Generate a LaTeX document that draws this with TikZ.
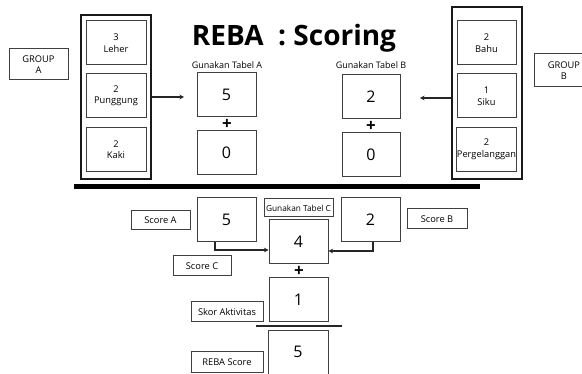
\documentclass[tikz,border=0pt]{standalone}
\usepackage{fontspec}
\setmainfont{Open Sans}
\usetikzlibrary{arrows.meta}
\tikzset{
  box/.style={draw=black!75, line width=1pt, rectangle, inner sep=0pt, align=center, font=\fontsize{9.3}{11.5}\selectfont},
  cont/.style={draw=black!90, line width=1.6pt, rectangle, inner sep=0pt},
  numbox/.style={draw=black!75, line width=1pt, rectangle, inner sep=0pt, minimum width=59pt, minimum height=44pt, font=\fontsize{16}{17}\selectfont},
  lbl/.style={inner sep=0pt, font=\fontsize{9}{10}\selectfont},
  plus/.style={inner sep=0pt, font=\bfseries\fontsize{17}{17}\selectfont},
  arr/.style={draw=black!85, line width=1.3pt, -{Stealth[length=4.5pt,width=4.5pt]}}
}
\begin{document}
\begin{tikzpicture}[x=1pt,y=-1pt]
\useasboundingbox (0,0) rectangle (582,374);
% title
\node[inner sep=0pt, font=\bfseries\fontsize{28}{30}\selectfont] (title) at (294,38) {REBA\ \ : Scoring};
% group A
\node[box, minimum width=59pt, minimum height=31pt] (groupA) at (38.5,64.5) {GROUP\\A};
\node[cont, minimum width=70pt, minimum height=164pt] (contA) at (116,97) {};
\node[box, minimum width=60pt, minimum height=44pt] (leher) at (116,43) {3\\Leher};
\node[box, minimum width=60pt, minimum height=44pt] (punggung) at (116,96) {2\\Punggung};
\node[box, minimum width=60pt, minimum height=44pt] (kaki) at (116,149.5) {2\\Kaki};
% table A
\node[lbl] (labA) at (227,65) {Gunakan Tabel A};
\node[numbox] (tA1) at (226.5,94.5) {5};
\node[plus] (plusA) at (227,124) {+};
\node[numbox] (tA2) at (226.5,152.5) {0};
\coordinate (endA) at (184,97);
\draw[arr] (contA.east |- endA) -- (endA);
% table B
\node[lbl] (labB) at (371,65) {Gunakan Tabel B};
\node[numbox, minimum width=58pt] (tB1) at (371,96.5) {2};
\node[plus] (plusB) at (371,126) {+};
\node[numbox, minimum width=58pt] (tB2) at (371,154.5) {0};
% group B
\node[cont, minimum width=70pt, minimum height=172pt] (contB) at (487,93) {};
\node[box, minimum width=59pt, minimum height=44pt] (bahu) at (486.5,43) {2\\Bahu};
\node[box, minimum width=59pt, minimum height=44pt] (siku) at (486.5,96) {1\\Siku};
\node[box, minimum width=59pt, minimum height=44pt] (pergel) at (486.5,149.5) {2\\Pergelanggan};
\node[box, minimum width=60pt, minimum height=33pt] (groupB) at (564,70.5) {GROUP\\B};
\coordinate (endB) at (420,98);
\draw[arr] (contB.west |- endB) -- (endB);
% bar
\fill[black] (74,184) rectangle (480,189.5);
% bottom
\node[box, minimum width=59pt, minimum height=19pt] (scoreA) at (160.5,220.5) {Score A};
\node[numbox] (cA) at (226.5,220) {5};
\node[box, minimum width=69pt, minimum height=18pt, font=\fontsize{8.3}{9}\selectfont] (tabC) at (298.5,208) {Gunakan Tabel C};
\node[numbox] (c4) at (298.5,242) {4};
\node[numbox] (cB) at (370.5,220) {2};
\node[box, minimum width=60pt, minimum height=20pt] (scoreB) at (437,219) {Score B};
\node[box, minimum width=58pt, minimum height=20pt] (scoreC) at (202,266) {Score C};
\node[plus] (plusC) at (299,271) {+};
\node[numbox] (c1) at (298.5,300) {1};
\node[box, minimum width=72pt, minimum height=20pt] (skor) at (227,312) {Skor Aktivitas};
\coordinate (lineL) at (256,326);
\coordinate (lineR) at (342,326);
\draw[black!85, line width=1.5pt] (lineL) -- (lineR);
\node[numbox, minimum width=60pt, minimum height=46pt, anchor=north] (c5) at (298,330) {\raisebox{4pt}{5}};
\node[box, minimum width=72pt, minimum height=21pt] (rebaS) at (227,362.5) {REBA Score};
\coordinate (yL) at (0,250);
\coordinate (yR) at (0,251);
\draw[arr] ([xshift=-11.5pt]cA.south) |- (c4.west |- yL);
\draw[arr] ([xshift=2.5pt]cB.south) |- (c4.east |- yR);
\end{tikzpicture}
\end{document}
